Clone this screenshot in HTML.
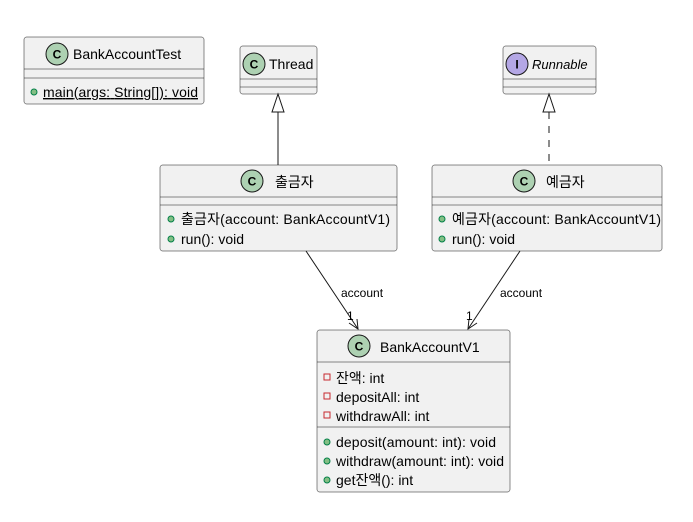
<!DOCTYPE html>
<html><head><meta charset="utf-8"><style>
html,body{margin:0;padding:0;background:#fff;}
svg text{font-family:"Liberation Sans","Noto Sans CJK KR",sans-serif;fill:#000;}
</style></head><body>
<svg width="693" height="517" viewBox="0 0 693 517" xmlns="http://www.w3.org/2000/svg">
<g stroke="#181818" stroke-width="0.5" fill="#F1F1F1">
<rect x="24" y="37" width="180" height="67" rx="2.5"/>
<rect x="240" y="46" width="77" height="48" rx="2.5"/>
<rect x="503" y="46" width="93" height="48" rx="2.5"/>
<rect x="160" y="165" width="237" height="86" rx="2.5"/>
<rect x="432" y="165" width="230" height="86" rx="2.5"/>
<rect x="317" y="330" width="193" height="162" rx="2.5"/>
</g>
<g stroke="#181818" stroke-width="0.5">
<line x1="24" y1="69" x2="204" y2="69"/><line x1="24" y1="78" x2="204" y2="78"/>
<line x1="240" y1="79" x2="317" y2="79"/><line x1="240" y1="87" x2="317" y2="87"/>
<line x1="503" y1="79" x2="596" y2="79"/><line x1="503" y1="87" x2="596" y2="87"/>
<line x1="160" y1="197" x2="397" y2="197"/><line x1="160" y1="205" x2="397" y2="205"/>
<line x1="432" y1="197" x2="662" y2="197"/><line x1="432" y1="205" x2="662" y2="205"/>
<line x1="317" y1="362" x2="510" y2="362"/><line x1="317" y1="427" x2="510" y2="427"/>
</g>
<g stroke="#181818" stroke-width="1" fill="#ADD1B2">
<circle cx="57" cy="54" r="11"/>
<circle cx="254" cy="64" r="11"/>
<circle cx="252" cy="181" r="11"/>
<circle cx="524" cy="181" r="11"/>
<circle cx="359" cy="346" r="11"/>
<circle cx="517" cy="64" r="11" fill="#B4A7E5"/>
</g>
<g font-weight="bold" font-size="12" text-anchor="middle">
<text x="57" y="58.5">C</text><text x="254" y="68.5">C</text><text x="252" y="185.5">C</text>
<text x="524" y="185.5">C</text><text x="359" y="350.5">C</text><text x="517" y="68.5">I</text>
</g>
<g font-size="14">
<text x="73" y="59">BankAccountTest</text>
<text x="269" y="69">Thread</text>
<text x="532" y="69" font-style="italic" font-size="13">Runnable</text>
<text x="275" y="187">출금자</text>
<text x="546" y="187">예금자</text>
<text x="380" y="352">BankAccountV1</text>
</g>
<g font-size="14">
<text x="43" y="97" text-decoration="underline" textLength="155">main(args: String[]): void</text>
<text x="181" y="224" textLength="209">출금자(account: BankAccountV1)</text>
<text x="181" y="244">run(): void</text>
<text x="452" y="224" textLength="209">예금자(account: BankAccountV1)</text>
<text x="452" y="244">run(): void</text>
<text x="336" y="383">잔액: int</text>
<text x="336" y="402">depositAll: int</text>
<text x="336" y="421">withdrawAll: int</text>
<text x="336" y="447" textLength="160">deposit(amount: int): void</text>
<text x="336" y="466" textLength="168">withdraw(amount: int): void</text>
<text x="336" y="485">get잔액(): int</text>
</g>
<g fill="#84BE84" stroke="#038048" stroke-width="1">
<circle cx="34" cy="92" r="3"/>
<circle cx="171" cy="219" r="3"/><circle cx="171" cy="239" r="3"/>
<circle cx="442" cy="219" r="3"/><circle cx="442" cy="239" r="3"/>
<circle cx="327" cy="442" r="3"/><circle cx="327" cy="461" r="3"/><circle cx="327" cy="480" r="3"/>
</g>
<g fill="none" stroke="#C82930" stroke-width="1">
<rect x="324" y="374" width="6" height="6"/>
<rect x="324" y="393" width="6" height="6"/>
<rect x="324" y="412" width="6" height="6"/>
</g>
<g stroke="#181818" stroke-width="1" fill="none">
<line x1="278" y1="112" x2="278" y2="165"/>
<polygon points="278,94 272,112 284,112" fill="#fff"/>
<line x1="549" y1="112" x2="549" y2="165" stroke-dasharray="7,7"/>
<polygon points="549,94 543,112 555,112" fill="#fff"/>
<line x1="306" y1="251" x2="358" y2="329"/>
<polyline points="349,323 358,329 357,319"/>
<line x1="520" y1="251" x2="468" y2="329"/>
<polyline points="469,319 468,329 477,323"/>
</g>
<g font-size="12">
<text x="341" y="297">account</text>
<text x="500" y="297">account</text>
<text x="347" y="320">1</text>
<text x="466" y="320">1</text>
</g>
</svg>
</body></html>
